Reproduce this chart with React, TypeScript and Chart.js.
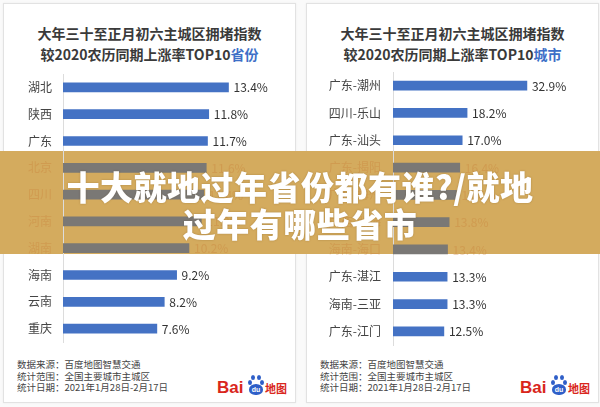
import React, { useEffect, useRef } from 'react';
import { Chart, registerables } from 'chart.js';

Chart.register(...registerables);

const FONT = '"Noto Sans CJK SC", "Noto Sans", sans-serif';

// ---- data ----
const provinceLabels = ['湖北', '陕西', '广东', '北京', '四川', '河南', '湖南', '海南', '云南', '重庆'];
const provinceValues = [13.4, 11.8, 11.7, 11.6, 11.4, 11.2, 10.2, 9.2, 8.2, 7.6];

const cityLabels = ['广东-潮州', '四川-乐山', '广东-汕头', '广东-揭阳', '广东-梅州', '广西-北海', '海南-海口', '广东-湛江', '海南-三亚', '广东-江门'];
const cityValues = [32.9, 18.2, 17.0, 16.4, 15.6, 13.8, 13.4, 13.3, 13.3, 12.5];

const titleLine1 = '大年三十至正月初六主城区拥堵指数';
const titleLine2 = '较2020农历同期上涨率TOP10';
const leftAccent = '省份';
const rightAccent = '城市';
const footerLines = ['数据来源：百度地图智慧交通', '统计范围：全国主要城市主城区', '统计日期：2021年1月28日-2月17日'];
const bannerLine1 = '十大就地过年省份都有谁?/就地';
const bannerLine2 = '过年有哪些省市';

// rows that sit underneath the banner
const coveredRows = [3, 4, 5, 6];

const BLUE = '#4472C4';
const COVERED_BAR = '#7a7875';
const COVERED_TEXT = 'rgba(200,120,50,0.3)';

const valueLabels = {
  id: 'valueLabels',
  afterDatasetsDraw(chart: any) {
    const { ctx } = chart;
    const meta = chart.getDatasetMeta(0);
    const data = chart.data.datasets[0].data as number[];
    ctx.save();
    ctx.font = `12px ${FONT}`;
    ctx.textBaseline = 'middle';
    ctx.textAlign = 'left';
    meta.data.forEach((bar: any, i: number) => {
      ctx.fillStyle = coveredRows.includes(i) ? COVERED_TEXT : '#333';
      ctx.fillText(data[i].toFixed(1) + '%', bar.x + 5, bar.y + 0.5);
    });
    ctx.restore();
  },
};

type PanelProps = {
  labels: string[];
  values: number[];
  max: number;
  axisWidth: number;
  tickPad: number;
  left: number;
  top: number;
  width: number;
  height: number;
};

function BarPanel({ labels, values, max, axisWidth, tickPad, left, top, width, height }: PanelProps) {
  const ref = useRef<HTMLCanvasElement | null>(null);
  useEffect(() => {
    if (!ref.current) return;
    const chart = new Chart(ref.current, {
      type: 'bar',
      data: {
        labels,
        datasets: [
          {
            data: values,
            backgroundColor: (c: any) => (coveredRows.includes(c.dataIndex) ? COVERED_BAR : BLUE),
            barThickness: 9,
          },
        ],
      },
      options: {
        indexAxis: 'y',
        animation: false,
        responsive: false,
        devicePixelRatio: 1,
        layout: { padding: { top: 4, bottom: 3, left: 0, right: 0 } },
        plugins: { legend: { display: false }, tooltip: { enabled: false }, title: { display: false } },
        scales: {
          x: { display: false, min: 0, max },
          y: {
            grid: { display: false, drawTicks: false },
            border: { display: true, color: '#dcdcdc', width: 1 },
            ticks: {
              padding: tickPad,
              font: { family: FONT, size: 12 },
              color: (c: any) => (coveredRows.includes(c.index) ? COVERED_TEXT : '#444'),
            },
            afterFit: (scale: any) => {
              scale.width = axisWidth;
              scale.paddingTop = 0;
              scale.paddingBottom = 0;
            },
          },
        },
      },
      plugins: [valueLabels],
    } as any);
    return () => chart.destroy();
  }, []);
  return (
    <canvas
      ref={ref}
      width={width}
      height={height}
      style={{ position: 'absolute', left, top, width, height, zIndex: 3 }}
    />
  );
}

function Card({ left, accent }: { left: number; accent: string }) {
  return (
    <div
      style={{
        position: 'absolute',
        left,
        top: 3,
        width: 291,
        height: 398,
        background: '#fff',
        border: '1px solid #e2e2e2',
        boxShadow: '0 0 2px rgba(0,0,0,0.06)',
        zIndex: 1,
        fontFamily: FONT,
      }}
    >
      <div
        style={{
          position: 'absolute',
          left: 0,
          right: 0,
          top: 19,
          textAlign: 'center',
          fontSize: 14,
          lineHeight: '21px',
          fontWeight: 700,
          color: '#3a3a3a',
        }}
      >
        <div>{titleLine1}</div>
        <div>
          {titleLine2}
          <span style={{ color: '#3d6fc7' }}>{accent}</span>
        </div>
      </div>
      <div
        style={{
          position: 'absolute',
          left: 13,
          top: 355,
          fontSize: 9.5,
          lineHeight: '11.5px',
          color: '#444',
          whiteSpace: 'nowrap',
        }}
      >
        {footerLines.map((t) => (
          <div key={t}>{t}</div>
        ))}
      </div>
      <div style={{ position: 'absolute', left: 213, top: 366, height: 30, width: 70 }}>
        <span
          style={{
            position: 'absolute',
            left: 0,
            top: 9,
            fontFamily: '"Liberation Sans", Arial, sans-serif',
            fontWeight: 700,
            fontSize: 17,
            lineHeight: '18px',
            color: '#d9261c',
          }}
        >
          Bai
        </span>
        <div style={{ position: 'absolute', left: 30, top: 3, width: 17, height: 24 }}>
          {[
            [1, 7],
            [4, 2],
            [10, 2],
            [13, 7],
          ].map(([x, y], i) => (
            <div
              key={i}
              style={{ position: 'absolute', left: x, top: y, width: 4, height: 5, borderRadius: '50%', background: '#2f5fc8' }}
            />
          ))}
          <div
            style={{
              position: 'absolute',
              left: 2,
              top: 11,
              width: 14,
              height: 11,
              borderRadius: '50% 50% 45% 45%',
              background: '#2f5fc8',
              color: '#fff',
              fontSize: 7,
              lineHeight: '11px',
              textAlign: 'center',
              fontFamily: '"Liberation Sans", Arial, sans-serif',
              fontWeight: 700,
            }}
          >
            du
          </div>
        </div>
        <span
          style={{
            position: 'absolute',
            left: 48,
            top: 11,
            fontSize: 11,
            lineHeight: '14px',
            fontWeight: 700,
            color: '#d9261c',
            whiteSpace: 'nowrap',
          }}
        >
          地图
        </span>
      </div>
    </div>
  );
}

export default function App() {
  return (
    <div
      style={{
        position: 'fixed',
        left: 0,
        top: 0,
        width: 600,
        height: 407,
        background: '#fafafa',
        overflow: 'hidden',
        fontFamily: FONT,
      }}
    >
      <Card left={3} accent={leftAccent} />
      <Card left={306} accent={rightAccent} />
      <div
        style={{
          position: 'absolute',
          left: 0,
          top: 151,
          width: 600,
          height: 103,
          background: 'rgb(212,171,94)',
          zIndex: 2,
        }}
      />
      <BarPanel
        labels={provinceLabels}
        values={provinceValues}
        max={18.38}
        axisWidth={53}
        tickPad={11}
        left={10}
        top={70}
        width={280}
        height={275}
      />
      <BarPanel
        labels={cityLabels}
        values={cityValues}
        max={48.4}
        axisWidth={83}
        tickPad={12}
        left={310}
        top={68}
        width={280}
        height={280}
      />
      <div
        style={{
          position: 'absolute',
          left: 0,
          top: 151,
          width: 600,
          height: 103,
          zIndex: 4,
          color: '#fff',
          fontWeight: 900,
          fontSize: 33,
          letterSpacing: 0.5,
          textAlign: 'center',
          textShadow: '0 0 2px rgba(90,60,20,0.35)',
        }}
      >
        <div style={{ position: 'absolute', left: 0, right: 0, top: 16, lineHeight: '38px' }}>{bannerLine1}</div>
        <div style={{ position: 'absolute', left: 0, right: 0, top: 53, lineHeight: '38px' }}>{bannerLine2}</div>
      </div>
    </div>
  );
}
